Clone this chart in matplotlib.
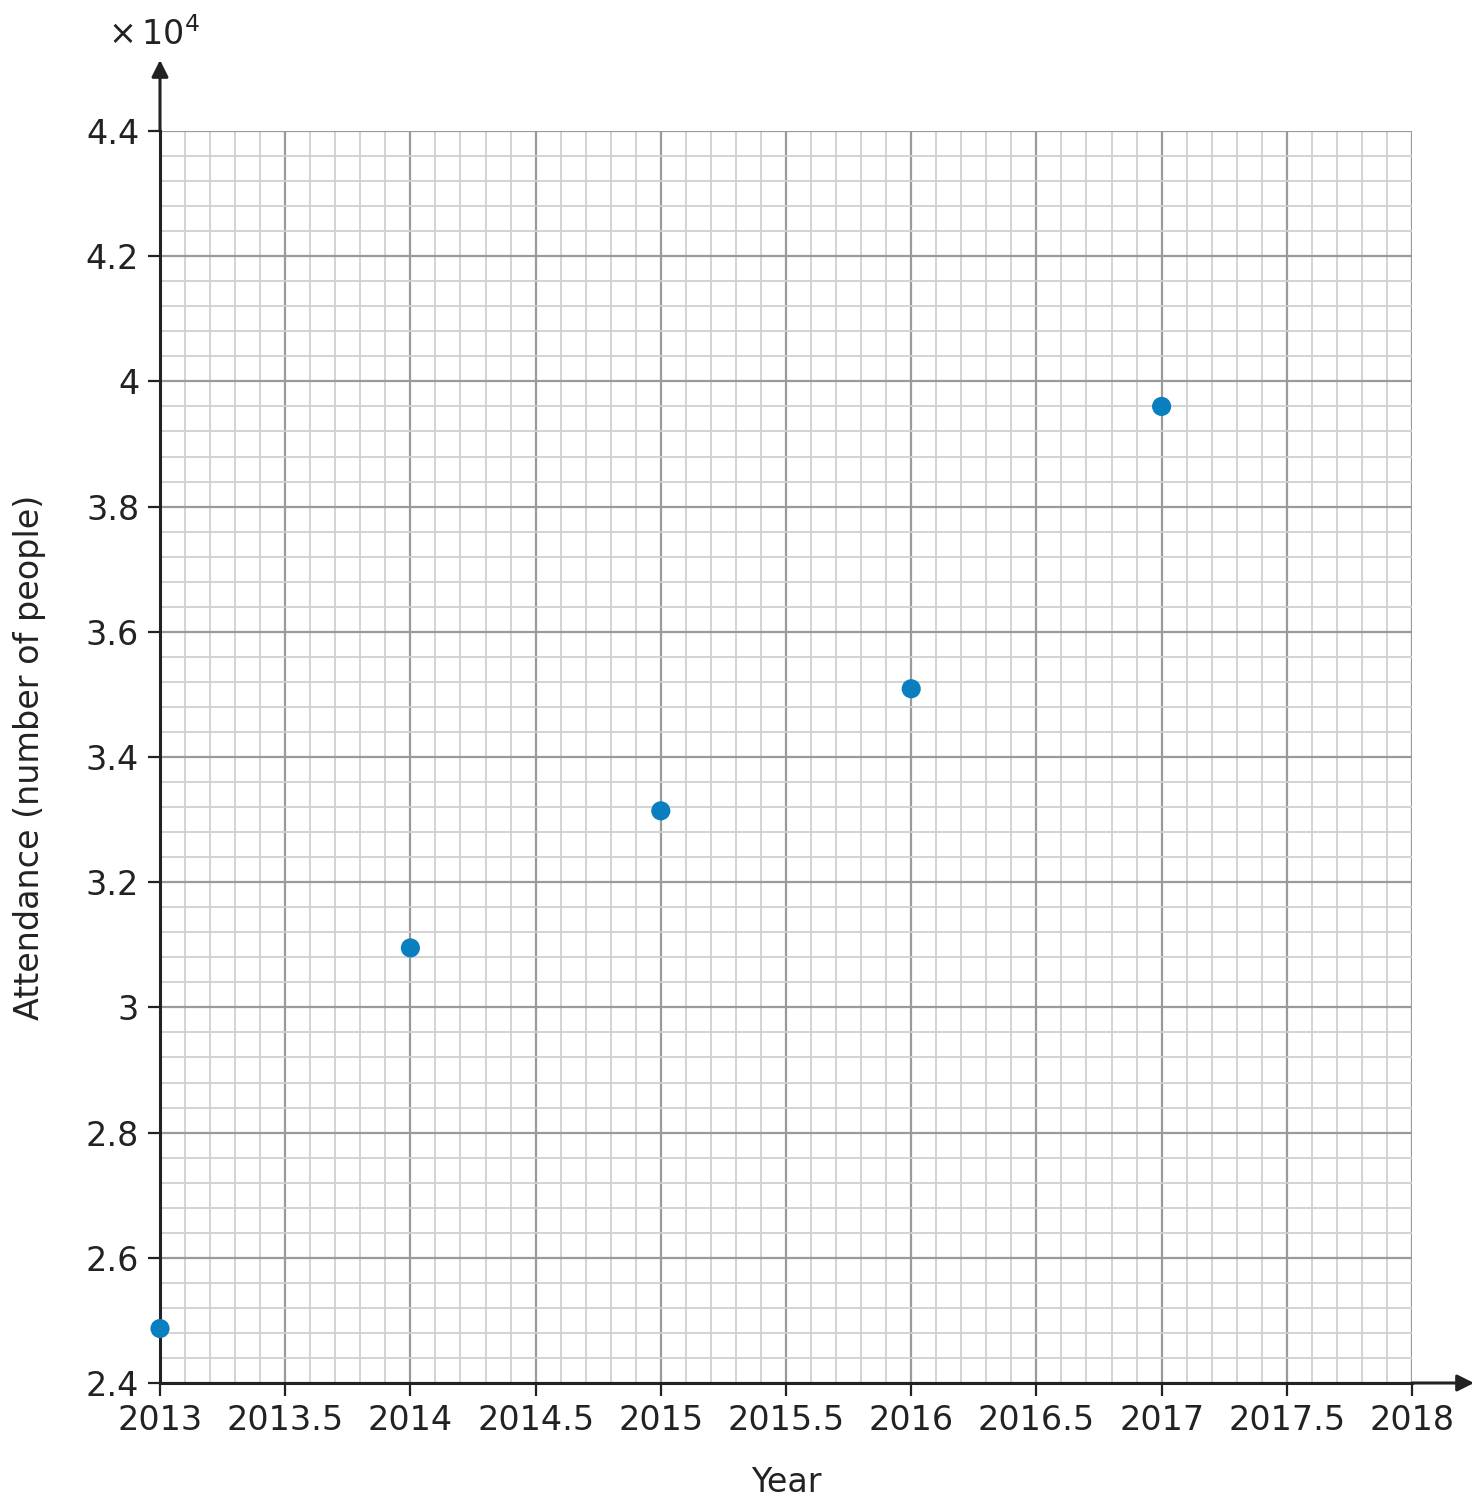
import matplotlib
matplotlib.use("Agg")
import matplotlib.pyplot as plt
from matplotlib.ticker import MultipleLocator, FuncFormatter
import numpy as np

years = [2013, 2014, 2015, 2016, 2017]
attendance = [24870, 30950, 33140, 35090, 39600]
x_ticks = [2013, 2013.5, 2014, 2014.5, 2015, 2015.5, 2016, 2016.5, 2017, 2017.5, 2018]
y_ticks = [2.4, 2.6, 2.8, 3.0, 3.2, 3.4, 3.6, 3.8, 4.0, 4.2, 4.4]

plt.rcParams['font.family'] = ['DejaVu Sans']

W, H = 1474, 1504
fig = plt.figure(figsize=(W/100, H/100), dpi=100)
ax = fig.add_axes([160/W, 1-1383/H, (1412-160)/W, (1383-131)/H])

scale = 1e4
ax.scatter(years, np.array(attendance)/scale, s=190, color='#0a7fc0', zorder=5, clip_on=False, edgecolors='none')

ax.set_xlim(2013, 2018)
ax.set_ylim(2.4, 4.4)
ax.set_xticks(x_ticks)
ax.set_yticks(y_ticks)
ax.xaxis.set_major_formatter(FuncFormatter(lambda v, p: f"{v:g}"))
ax.yaxis.set_major_formatter(FuncFormatter(lambda v, p: f"{v:g}"))
ax.xaxis.set_minor_locator(MultipleLocator(0.1))
ax.yaxis.set_minor_locator(MultipleLocator(0.04))
ax.grid(which='major', color='#9a9a9a', linewidth=1.6)
ax.grid(which='minor', color='#d0d0d0', linewidth=1.3)
ax.set_axisbelow(True)
ax.tick_params(which='major', direction='out', length=9, width=1.6, color='#222222',
               labelsize=24, labelcolor='#222222', pad=6)
ax.tick_params(which='minor', length=0)

for s in ['top', 'right']:
    ax.spines[s].set_visible(False)
for s in ['left', 'bottom']:
    ax.spines[s].set_color('#222222')
    ax.spines[s].set_linewidth(2.2)

# axis extension arrows
fig.add_artist(matplotlib.patches.FancyArrowPatch(
    (160/W, 1-131/H), (160/W, 1-60/H), transform=fig.transFigure,
    arrowstyle='-|>', mutation_scale=25, color='#222222', linewidth=2.2, shrinkA=0, shrinkB=0))
fig.add_artist(matplotlib.patches.FancyArrowPatch(
    (1412/W, 1-1383/H), (1474/W, 1-1383/H), transform=fig.transFigure,
    arrowstyle='-|>', mutation_scale=25, color='#222222', linewidth=2.2, shrinkA=0, shrinkB=0))

fig.text(108/W, 1-35/H, r'$\times\,$10$^4$', fontsize=24, color='#222222', va='center', ha='left')

fig.text(786/W, 1-1483/H, 'Year', fontsize=24, color='#222222', ha='center', va='center')
fig.text(30/W, 1-757/H, 'Attendance (number of people)', fontsize=24, color='#222222',
         ha='center', va='center', rotation=90)

fig.savefig('out.png', dpi=100, facecolor='white')
